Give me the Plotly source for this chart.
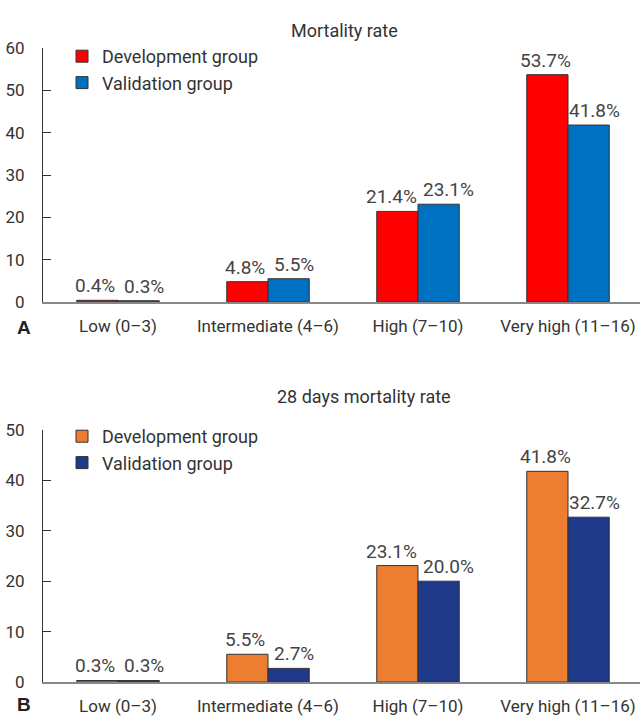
import plotly.graph_objects as go

categories = ["Low (0–3)", "Intermediate (4–6)", "High (7–10)", "Very high (11–16)"]
mort_dev = [0.4, 4.8, 21.4, 53.7]
mort_val = [0.3, 5.5, 23.1, 41.8]
d28_dev = [0.3, 5.5, 23.1, 41.8]
d28_val = [0.3, 2.7, 20.0, 32.7]
yticks_a = [0, 10, 20, 30, 40, 50, 60]
yticks_b = [0, 10, 20, 30, 40, 50]

FONT = "Roboto"
TXT = "#444444"
W, H = 640, 718
EXTRA_SPREAD = {"High (7–10)": 4}  # label nudge (style only)

def py(px):
    return 1 - px / H

fig = go.Figure()
annotations = []

def add_bars(vals, name, color, xa, ya, legend, shift):
    fig.add_trace(go.Bar(
        x=categories, y=vals, name=name, xaxis=xa, yaxis=ya, legend=legend,
        marker=dict(color=color, line=dict(color="#333333", width=1)),
    ))
    sign = -1 if shift < 0 else 1
    for c, v in zip(categories, vals):
        annotations.append(dict(
            x=c, y=v, xref=xa, yref=ya, text=f"{v:.1f}%", showarrow=False,
            xanchor="center", yanchor="bottom",
            xshift=shift + sign * EXTRA_SPREAD.get(c, 0), yshift=1,
            font=dict(family=FONT, size=19, color=TXT)))

add_bars(mort_dev, "Development group", "#FF0000", "x", "y", "legend", -23)
add_bars(mort_val, "Validation group", "#0070C0", "x", "y", "legend", 26)
add_bars(d28_dev, "Development group", "#ED7D31", "x2", "y2", "legend2", -23)
add_bars(d28_val, "Validation group", "#203A8A", "x2", "y2", "legend2", 26)

xd = [43 / W, 1.0]
xcommon = dict(domain=xd, type="category", range=[-0.5, 3.48], showline=True,
               linecolor="#888888", linewidth=1.5, ticks="", showgrid=False,
               automargin=False,
               tickfont=dict(family=FONT, size=17, color="#333333"),
               ticklabelstandoff=8)
ycommon = dict(showline=True, linecolor="#333333", linewidth=1, ticks="inside",
               ticklen=8, tickcolor="#333333", showgrid=False, zeroline=False,
               automargin=False,
               tickfont=dict(family=FONT, size=17, color="#333333"),
               ticklabelstandoff=14)

annotations += [
    dict(text="Mortality rate", x=344 / W, y=py(18), xref="paper", yref="paper",
         showarrow=False, font=dict(family=FONT, size=18, color="#333333")),
    dict(text="28 days mortality rate", x=364 / W, y=py(396), xref="paper", yref="paper",
         showarrow=False, font=dict(family=FONT, size=18, color="#333333")),
    dict(text="<b>A</b>", x=15 / W, y=py(327), xref="paper", yref="paper",
         showarrow=False, font=dict(family="Liberation Sans", size=19, color="#222222")),
    dict(text="<b>B</b>", x=15 / W, y=py(717), xref="paper", yref="paper",
         yanchor="bottom", showarrow=False,
         font=dict(family="Liberation Sans", size=19, color="#222222")),
]

fig.update_layout(
    width=W, height=H, margin=dict(l=0, r=0, t=0, b=0, autoexpand=False),
    paper_bgcolor="white", plot_bgcolor="white",
    barmode="group", bargap=0.45, bargroupgap=0,
    font=dict(family=FONT, color="#333333"),
    xaxis=dict(anchor="y", **xcommon),
    yaxis=dict(domain=[py(302), py(48)], range=[0, 60], tickvals=yticks_a, anchor="x", **ycommon),
    xaxis2=dict(anchor="y2", **xcommon),
    yaxis2=dict(domain=[py(682), py(430)], range=[0, 50], tickvals=yticks_b, anchor="x2", **ycommon),
    legend=dict(x=62 / W, y=py(38), xanchor="left", yanchor="top",
                font=dict(family=FONT, size=18, color="#333333"),
                bgcolor="rgba(0,0,0,0)", itemwidth=30, tracegroupgap=0),
    legend2=dict(x=62 / W, y=py(418), xanchor="left", yanchor="top",
                 font=dict(family=FONT, size=18, color="#333333"),
                 bgcolor="rgba(0,0,0,0)", itemwidth=30, tracegroupgap=0),
    annotations=annotations,
)

fig.write_html("out.html", config={"displayModeBar": False},
               post_script="document.body.style.margin='0';")
